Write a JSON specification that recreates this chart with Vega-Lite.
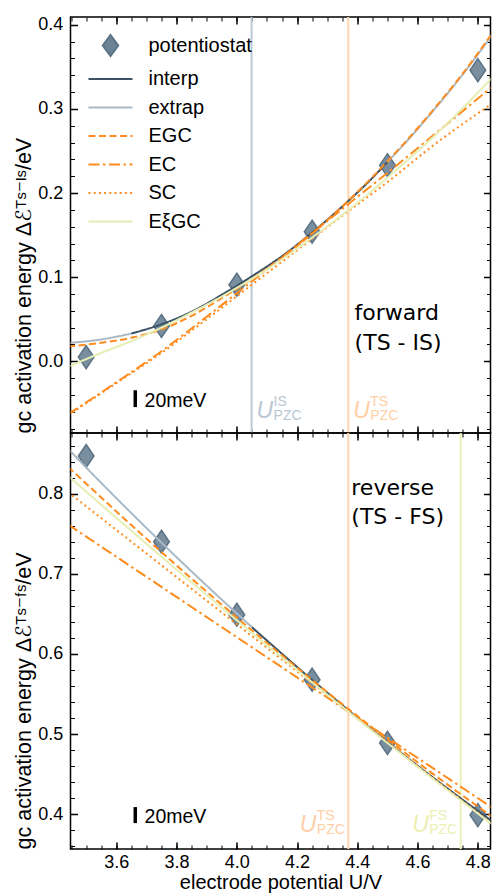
{
  "$schema": "https://vega.github.io/schema/vega-lite/v6.json",
  "background": "white",
  "padding": {"left": 12.5, "top": 14, "right": 1, "bottom": 0},
  "spacing": 0,
  "bounds": "flush",
  "config": {
    "font": "Liberation Sans",
    "view": {"stroke": "#000", "strokeWidth": 1.5},
    "axis": {"domain": false, "grid": false, "tickColor": "#000", "labelColor": "#000", "titleColor": "#000", "titleFontWeight": "normal", "labelFont": "Liberation Sans", "titleFont": "Liberation Sans, DejaVu Sans", "labelFontSize": 18, "titleFontSize": 20, "labelOverlap": false, "labelFlush": false}
  },
  "datasets": {
    "pts_top": [{"U":3.5,"E":0.005},{"U":3.75,"E":0.042},{"U":4.0,"E":0.091},{"U":4.25,"E":0.154},{"U":4.5,"E":0.233},{"U":4.8,"E":0.346}],
    "pts_bot": [{"U":3.5,"E":0.847},{"U":3.75,"E":0.740},{"U":4.0,"E":0.649},{"U":4.25,"E":0.568},{"U":4.5,"E":0.489},{"U":4.8,"E":0.399}],
    "lines_top": [
      {"series":"extrap","seg":"xL","U":3.44,"E":0.0217},{"series":"extrap","seg":"xL","U":3.55,"E":0.026},{"series":"extrap","seg":"xL","U":3.65,"E":0.033},
      {"series":"interp","seg":"i","U":3.65,"E":0.033},{"series":"interp","seg":"i","U":3.75,"E":0.044},{"series":"interp","seg":"i","U":3.85,"E":0.059},{"series":"interp","seg":"i","U":3.95,"E":0.079},{"series":"interp","seg":"i","U":4.05,"E":0.101},{"series":"interp","seg":"i","U":4.15,"E":0.125},{"series":"interp","seg":"i","U":4.25,"E":0.153},{"series":"interp","seg":"i","U":4.35,"E":0.184},{"series":"interp","seg":"i","U":4.45,"E":0.218},{"series":"interp","seg":"i","U":4.5,"E":0.237},
      {"series":"extrap","seg":"xR","U":4.5,"E":0.237},{"series":"extrap","seg":"xR","U":4.55,"E":0.256},{"series":"extrap","seg":"xR","U":4.65,"E":0.297},{"series":"extrap","seg":"xR","U":4.75,"E":0.341},{"series":"extrap","seg":"xR","U":4.85,"E":0.389},
      {"series":"EGC","seg":"g","U":3.44,"E":0.0177},{"series":"EGC","seg":"g","U":3.55,"E":0.022},{"series":"EGC","seg":"g","U":3.65,"E":0.028},{"series":"EGC","seg":"g","U":3.75,"E":0.038},{"series":"EGC","seg":"g","U":3.85,"E":0.054},{"series":"EGC","seg":"g","U":3.95,"E":0.075},{"series":"EGC","seg":"g","U":4.05,"E":0.098},{"series":"EGC","seg":"g","U":4.15,"E":0.123},{"series":"EGC","seg":"g","U":4.25,"E":0.152},{"series":"EGC","seg":"g","U":4.35,"E":0.184},{"series":"EGC","seg":"g","U":4.45,"E":0.219},{"series":"EGC","seg":"g","U":4.55,"E":0.257},{"series":"EGC","seg":"g","U":4.65,"E":0.298},{"series":"EGC","seg":"g","U":4.75,"E":0.342},{"series":"EGC","seg":"g","U":4.85,"E":0.391},
      {"series":"EC","seg":"c","U":3.44,"E":-0.063},{"series":"EC","seg":"c","U":3.6,"E":-0.025},{"series":"EC","seg":"c","U":3.75,"E":0.012},{"series":"EC","seg":"c","U":3.9,"E":0.053},{"series":"EC","seg":"c","U":4.05,"E":0.095},{"series":"EC","seg":"c","U":4.2,"E":0.138},{"series":"EC","seg":"c","U":4.35,"E":0.181},{"series":"EC","seg":"c","U":4.5,"E":0.224},{"series":"EC","seg":"c","U":4.65,"E":0.268},{"series":"EC","seg":"c","U":4.85,"E":0.327},
      {"series":"SC","seg":"s","U":3.44,"E":-0.064},{"series":"SC","seg":"s","U":3.6,"E":-0.026},{"series":"SC","seg":"s","U":3.75,"E":0.010},{"series":"SC","seg":"s","U":3.9,"E":0.050},{"series":"SC","seg":"s","U":4.05,"E":0.091},{"series":"SC","seg":"s","U":4.2,"E":0.132},{"series":"SC","seg":"s","U":4.35,"E":0.173},{"series":"SC","seg":"s","U":4.5,"E":0.213},{"series":"SC","seg":"s","U":4.65,"E":0.256},{"series":"SC","seg":"s","U":4.85,"E":0.307},
      {"series":"EξGC","seg":"x","U":3.44,"E":-0.0065},{"series":"EξGC","seg":"x","U":3.55,"E":0.010},{"series":"EξGC","seg":"x","U":3.65,"E":0.024},{"series":"EξGC","seg":"x","U":3.75,"E":0.040},{"series":"EξGC","seg":"x","U":3.85,"E":0.058},{"series":"EξGC","seg":"x","U":3.95,"E":0.077},{"series":"EξGC","seg":"x","U":4.05,"E":0.098},{"series":"EξGC","seg":"x","U":4.15,"E":0.121},{"series":"EξGC","seg":"x","U":4.25,"E":0.147},{"series":"EξGC","seg":"x","U":4.35,"E":0.174},{"series":"EξGC","seg":"x","U":4.45,"E":0.203},{"series":"EξGC","seg":"x","U":4.55,"E":0.234},{"series":"EξGC","seg":"x","U":4.65,"E":0.266},{"series":"EξGC","seg":"x","U":4.75,"E":0.301},{"series":"EξGC","seg":"x","U":4.85,"E":0.338}
    ],
    "lines_bot": [
      {"series":"extrap","seg":"xL","U":3.44,"E":0.8559},{"series":"extrap","seg":"xL","U":3.55,"E":0.8134},{"series":"extrap","seg":"xL","U":3.65,"E":0.7757},{"series":"extrap","seg":"xL","U":3.75,"E":0.7389},{"series":"extrap","seg":"xL","U":3.85,"E":0.7029},{"series":"extrap","seg":"xL","U":3.95,"E":0.6678},{"series":"extrap","seg":"xL","U":4.05,"E":0.6335},
      {"series":"interp","seg":"i","U":4.05,"E":0.6335},{"series":"interp","seg":"i","U":4.15,"E":0.6002},{"series":"interp","seg":"i","U":4.25,"E":0.5676},{"series":"interp","seg":"i","U":4.35,"E":0.5360},{"series":"interp","seg":"i","U":4.45,"E":0.5052},{"series":"interp","seg":"i","U":4.55,"E":0.4752},{"series":"interp","seg":"i","U":4.65,"E":0.4462},{"series":"interp","seg":"i","U":4.75,"E":0.4180},{"series":"interp","seg":"i","U":4.85,"E":0.3906},
      {"series":"EGC","seg":"g","U":3.44,"E":0.8335},{"series":"EGC","seg":"g","U":3.65,"E":0.7608},{"series":"EGC","seg":"g","U":3.85,"E":0.694},{"series":"EGC","seg":"g","U":4.05,"E":0.6296},{"series":"EGC","seg":"g","U":4.25,"E":0.5676},{"series":"EGC","seg":"g","U":4.45,"E":0.508},{"series":"EGC","seg":"g","U":4.65,"E":0.4508},{"series":"EGC","seg":"g","U":4.85,"E":0.3962},
      {"series":"EC","seg":"c","U":3.44,"E":0.7615},{"series":"EC","seg":"c","U":4.15,"E":0.5833},{"series":"EC","seg":"c","U":4.85,"E":0.4076},
      {"series":"SC","seg":"s","U":3.44,"E":0.8019},{"series":"SC","seg":"s","U":4.15,"E":0.593},{"series":"SC","seg":"s","U":4.85,"E":0.3872},
      {"series":"EξGC","seg":"x","U":3.44,"E":0.8223},{"series":"EξGC","seg":"x","U":3.65,"E":0.7536},{"series":"EξGC","seg":"x","U":3.85,"E":0.6894},{"series":"EξGC","seg":"x","U":4.05,"E":0.6264},{"series":"EξGC","seg":"x","U":4.25,"E":0.5646},{"series":"EξGC","seg":"x","U":4.45,"E":0.504},{"series":"EξGC","seg":"x","U":4.65,"E":0.4446},{"series":"EξGC","seg":"x","U":4.85,"E":0.3866}
    ],
    "pzc_top": [{"U":4.049,"E":-0.0675,"state":"IS"},{"U":4.37,"E":-0.0675,"state":"TS"}],
    "pzc_bot": [{"U":4.37,"E":0.378,"state":"TS"},{"U":4.743,"E":0.378,"state":"FS"}],
    "bar_top": [{"U":3.663,"E":-0.0544,"E2":-0.0344}],
    "bar_bot": [{"U":3.663,"E":0.389,"E2":0.409}],
    "note_top": [{"U":4.391,"E":0.049}],
    "note_bot": [{"U":4.38,"E":0.798}]
  },
  "vconcat": [
    {
      "width": 420, "height": 416,
      "resolve": {"axis": {"x": "independent", "y": "independent"}},
      "layer": [
        {
          "data": {"name": "pzc_top"},
          "mark": {"type": "rule", "strokeWidth": 2},
          "encoding": {
            "x": {"field": "U", "type": "quantitative", "scale": {"domain": [3.448, 4.842], "nice": false, "zero": false}, "axis": {"orient": "bottom", "values": [3.6,3.8,4.0,4.2,4.4,4.6,4.8], "tickSize": -7, "tickWidth": 1.5, "labels": false, "title": null}},
            "stroke": {"field": "state", "type": "nominal", "scale": {"domain": ["IS","TS","FS"], "range": ["#bccad6","#ffd3ae","#eef2b7"]}, "legend": null}
          }
        },
        {
          "data": {"name": "pts_top"},
          "mark": {"type": "point", "shape": "M0,-1L0.68,0L0,1L-0.68,0Z", "size": 529, "filled": true, "fill": "#6b8396", "stroke": "#4a6478", "strokeWidth": 1.5, "opacity": 0.9},
          "encoding": {
            "x": {"field": "U", "type": "quantitative", "scale": {"domain": [3.448, 4.842], "nice": false, "zero": false}, "axis": {"orient": "bottom", "values": [3.45,3.5,3.55,3.6,3.65,3.7,3.75,3.8,3.85,3.9,3.95,4.0,4.05,4.1,4.15,4.2,4.25,4.3,4.35,4.4,4.45,4.5,4.55,4.6,4.65,4.7,4.75,4.8], "tickSize": -4, "tickWidth": 1, "labels": false, "title": null}},
            "y": {"field": "E", "type": "quantitative", "scale": {"domain": [-0.0852, 0.4092], "nice": false, "zero": false}, "axis": {"orient": "left", "values": [0,0.1,0.2,0.3,0.4], "format": ".1f", "tickSize": -7, "tickWidth": 1.5, "labelPadding": 14.7, "title": "\u2002\u200agc activation energy Δℰᵀˢ⁻ᴵˢ/eV", "titleFontSize": 21.5, "titlePadding": 2, "titleAnchor": "start", "titleAlign": "left", "titleAngle": 270}}
          }
        },
        {
          "data": {"name": "lines_top"},
          "mark": {"type": "line", "clip": true, "strokeWidth": 2, "interpolate": "monotone"},
          "encoding": {
            "x": {"field": "U", "type": "quantitative", "scale": {"domain": [3.448, 4.842], "nice": false, "zero": false}, "axis": {"orient": "top", "values": [3.6,3.8,4.0,4.2,4.4,4.6,4.8], "tickSize": -7, "tickWidth": 1.5, "labels": false, "title": null}},
            "y": {"field": "E", "type": "quantitative", "scale": {"domain": [-0.0852, 0.4092], "nice": false, "zero": false}, "axis": {"orient": "left", "values": [-0.08,-0.06,-0.04,-0.02,0,0.02,0.04,0.06,0.08,0.1,0.12,0.14,0.16,0.18,0.2,0.22,0.24,0.26,0.28,0.3,0.32,0.34,0.36,0.38,0.4], "tickSize": -4, "tickWidth": 1, "labels": false, "title": null}},
            "color": {"field": "series", "type": "nominal", "scale": {"domain": ["potentiostat","interp","extrap","EGC","EC","SC","EξGC"], "range": ["#5b7487","#3b5266","#a9b9c6","#ff8c1e","#ff8c1e","#ff8c1e","#e6eeb4"]},
              "legend": {"orient": "none", "legendX": 30, "legendY": 18.5, "direction": "vertical", "title": null, "padding": 0, "symbolSize": 100, "symbolStrokeWidth": 2, "symbolOffset": 0, "labelFontSize": 20, "labelFont": "Liberation Sans", "labelColor": "#000", "labelOffset": 28, "rowPadding": 8.5,
                "encode": {"symbols": {"update": {
                  "shape": {"signal": "datum.value === 'potentiostat' ? 'M0,-2.1L1.55,0L0,2.1L-1.55,0Z' : 'M-4.4,0L4.4,0'"},
                  "size": {"value": 100},
                  "fill": {"signal": "datum.value === 'potentiostat' ? '#6b8396' : 'transparent'"},
                  "stroke": {"signal": "datum.value === 'potentiostat' ? '#4a6478' : datum.value === 'interp' ? '#3b5266' : datum.value === 'extrap' ? '#a9b9c6' : datum.value === 'EξGC' ? '#e6eeb4' : '#ff8c1e'"},
                  "strokeWidth": {"value": 2},
                  "strokeDash": {"signal": "datum.value === 'EGC' ? [7,3.5] : datum.value === 'EC' ? [11,3.5,2.5,3.5] : datum.value === 'SC' ? [2,3.2] : [1,0]"},
                  "opacity": {"value": 1}
                }}}
              }},
            "strokeDash": {"field": "series", "type": "nominal", "scale": {"domain": ["interp","extrap","EGC","EC","SC","EξGC"], "range": [[1,0],[1,0],[7,3.5],[11,3.5,2.5,3.5],[2,3.2],[1,0]]}, "legend": null},
            "detail": {"field": "seg"}
          }
        },
        {
          "data": {"name": "bar_top"},
          "mark": {"type": "rule", "strokeWidth": 3.5, "color": "#000"},
          "encoding": {
            "x": {"field": "U", "type": "quantitative", "scale": {"domain": [3.448, 4.842], "nice": false, "zero": false}, "axis": {"orient": "top", "values": [3.45,3.5,3.55,3.6,3.65,3.7,3.75,3.8,3.85,3.9,3.95,4.0,4.05,4.1,4.15,4.2,4.25,4.3,4.35,4.4,4.45,4.5,4.55,4.6,4.65,4.7,4.75,4.8], "tickSize": -4, "tickWidth": 1, "labels": false, "title": null}},
            "y": {"field": "E", "type": "quantitative", "scale": {"domain": [-0.0852, 0.4092], "nice": false, "zero": false}, "axis": {"orient": "right", "values": [0,0.1,0.2,0.3,0.4], "tickSize": -7, "tickWidth": 1.5, "labels": false, "title": null}},
            "y2": {"field": "E2"}
          }
        },
        {
          "data": {"name": "bar_top"},
          "mark": {"type": "text", "text": "20meV", "align": "left", "baseline": "alphabetic", "dx": 9.3, "fontSize": 19.5, "font": "Liberation Sans", "color": "#000"},
          "encoding": {
            "x": {"field": "U", "type": "quantitative", "scale": {"domain": [3.448, 4.842], "nice": false, "zero": false}, "axis": null},
            "y": {"field": "E", "type": "quantitative", "scale": {"domain": [-0.0852, 0.4092], "nice": false, "zero": false}, "axis": {"orient": "right", "values": [-0.08,-0.06,-0.04,-0.02,0,0.02,0.04,0.06,0.08,0.1,0.12,0.14,0.16,0.18,0.2,0.22,0.24,0.26,0.28,0.3,0.32,0.34,0.36,0.38,0.4], "tickSize": -4, "tickWidth": 1, "labels": false, "title": null}}
          }
        },
        {
          "data": {"name": "pzc_top"},
          "mark": {"type": "text", "text": "U", "align": "left", "baseline": "alphabetic", "dx": 5, "fontSize": 23, "fontStyle": "italic", "font": "Liberation Sans"},
          "encoding": {
            "x": {"field": "U", "type": "quantitative", "axis": null},
            "y": {"field": "E", "type": "quantitative", "axis": null},
            "fill": {"field": "state", "type": "nominal", "scale": {"domain": ["IS","TS","FS"], "range": ["#b8c7d3","#ffcfa6","#ecf0b0"]}, "legend": null}
          }
        },
        {
          "data": {"name": "pzc_top"},
          "mark": {"type": "text", "align": "left", "baseline": "alphabetic", "dx": 22, "dy": -12, "fontSize": 14, "font": "Liberation Sans"},
          "encoding": {
            "x": {"field": "U", "type": "quantitative", "axis": null},
            "y": {"field": "E", "type": "quantitative", "axis": null},
            "text": {"field": "state"},
            "fill": {"field": "state", "type": "nominal", "legend": null}
          }
        },
        {
          "data": {"name": "pzc_top"},
          "mark": {"type": "text", "text": "PZC", "align": "left", "baseline": "alphabetic", "dx": 22, "dy": 2, "fontSize": 14, "font": "Liberation Sans"},
          "encoding": {
            "x": {"field": "U", "type": "quantitative", "axis": null},
            "y": {"field": "E", "type": "quantitative", "axis": null},
            "fill": {"field": "state", "type": "nominal", "legend": null}
          }
        },
        {
          "data": {"name": "note_top"},
          "mark": {"type": "text", "text": ["forward", "(TS - IS)"], "align": "left", "baseline": "alphabetic", "lineHeight": 30, "fontSize": 22, "font": "DejaVu Sans", "color": "#000"},
          "encoding": {
            "x": {"field": "U", "type": "quantitative", "axis": null},
            "y": {"field": "E", "type": "quantitative", "axis": null}
          }
        }
      ]
    },
    {
      "width": 420, "height": 416,
      "resolve": {"axis": {"x": "independent", "y": "independent"}},
      "layer": [
        {
          "data": {"name": "pzc_bot"},
          "mark": {"type": "rule", "strokeWidth": 2},
          "encoding": {
            "x": {"field": "U", "type": "quantitative", "scale": {"domain": [3.448, 4.842], "nice": false, "zero": false}, "axis": {"orient": "bottom", "values": [3.6,3.8,4.0,4.2,4.4,4.6,4.8], "format": ".1f", "tickSize": -7, "tickWidth": 1.5, "labelPadding": 11, "title": "electrode potential U/V", "titleFontSize": 20, "titlePadding": 1}},
            "stroke": {"field": "state", "type": "nominal", "scale": {"domain": ["IS","TS","FS"], "range": ["#bccad6","#ffd3ae","#eef2b7"]}, "legend": null}
          }
        },
        {
          "data": {"name": "pts_bot"},
          "mark": {"type": "point", "shape": "M0,-1L0.68,0L0,1L-0.68,0Z", "size": 529, "filled": true, "fill": "#6b8396", "stroke": "#4a6478", "strokeWidth": 1.5, "opacity": 0.9},
          "encoding": {
            "x": {"field": "U", "type": "quantitative", "scale": {"domain": [3.448, 4.842], "nice": false, "zero": false}, "axis": {"orient": "bottom", "values": [3.45,3.5,3.55,3.6,3.65,3.7,3.75,3.8,3.85,3.9,3.95,4.0,4.05,4.1,4.15,4.2,4.25,4.3,4.35,4.4,4.45,4.5,4.55,4.6,4.65,4.7,4.75,4.8], "tickSize": -4, "tickWidth": 1, "labels": false, "title": null}},
            "y": {"field": "E", "type": "quantitative", "scale": {"domain": [0.3567, 0.8757], "nice": false, "zero": false}, "axis": {"orient": "left", "values": [0.4,0.5,0.6,0.7,0.8], "format": ".1f", "tickSize": -7, "tickWidth": 1.5, "labelPadding": 14.7, "title": "\u2002\u200agc activation energy Δℰᵀˢ⁻ᶠˢ/eV", "titleFontSize": 21.5, "titlePadding": 2, "titleAnchor": "start", "titleAlign": "left", "titleAngle": 270}}
          }
        },
        {
          "data": {"name": "lines_bot"},
          "mark": {"type": "line", "clip": true, "strokeWidth": 2, "interpolate": "monotone"},
          "encoding": {
            "x": {"field": "U", "type": "quantitative", "scale": {"domain": [3.448, 4.842], "nice": false, "zero": false}, "axis": {"orient": "top", "values": [3.6,3.8,4.0,4.2,4.4,4.6,4.8], "tickSize": -7, "tickWidth": 1.5, "labels": false, "title": null}},
            "y": {"field": "E", "type": "quantitative", "scale": {"domain": [0.3567, 0.8757], "nice": false, "zero": false}, "axis": {"orient": "left", "values": [0.36,0.38,0.4,0.42,0.44,0.46,0.48,0.5,0.52,0.54,0.56,0.58,0.6,0.62,0.64,0.66,0.68,0.7,0.72,0.74,0.76,0.78,0.8,0.82,0.84,0.86], "tickSize": -4, "tickWidth": 1, "labels": false, "title": null}},
            "color": {"field": "series", "type": "nominal", "scale": {"domain": ["potentiostat","interp","extrap","EGC","EC","SC","EξGC"], "range": ["#5b7487","#3b5266","#a9b9c6","#ff8c1e","#ff8c1e","#ff8c1e","#e6eeb4"]}, "legend": null},
            "strokeDash": {"field": "series", "type": "nominal", "scale": {"domain": ["interp","extrap","EGC","EC","SC","EξGC"], "range": [[1,0],[1,0],[7,3.5],[11,3.5,2.5,3.5],[2,3.2],[1,0]]}, "legend": null},
            "detail": {"field": "seg"}
          }
        },
        {
          "data": {"name": "bar_bot"},
          "mark": {"type": "rule", "strokeWidth": 3.5, "color": "#000"},
          "encoding": {
            "x": {"field": "U", "type": "quantitative", "scale": {"domain": [3.448, 4.842], "nice": false, "zero": false}, "axis": {"orient": "top", "values": [3.45,3.5,3.55,3.6,3.65,3.7,3.75,3.8,3.85,3.9,3.95,4.0,4.05,4.1,4.15,4.2,4.25,4.3,4.35,4.4,4.45,4.5,4.55,4.6,4.65,4.7,4.75,4.8], "tickSize": -4, "tickWidth": 1, "labels": false, "title": null}},
            "y": {"field": "E", "type": "quantitative", "scale": {"domain": [0.3567, 0.8757], "nice": false, "zero": false}, "axis": {"orient": "right", "values": [0.4,0.5,0.6,0.7,0.8], "tickSize": -7, "tickWidth": 1.5, "labels": false, "title": null}},
            "y2": {"field": "E2"}
          }
        },
        {
          "data": {"name": "bar_bot"},
          "mark": {"type": "text", "text": "20meV", "align": "left", "baseline": "alphabetic", "dx": 9.3, "fontSize": 19.5, "font": "Liberation Sans", "color": "#000"},
          "encoding": {
            "x": {"field": "U", "type": "quantitative", "scale": {"domain": [3.448, 4.842], "nice": false, "zero": false}, "axis": null},
            "y": {"field": "E", "type": "quantitative", "scale": {"domain": [0.3567, 0.8757], "nice": false, "zero": false}, "axis": {"orient": "right", "values": [0.36,0.38,0.4,0.42,0.44,0.46,0.48,0.5,0.52,0.54,0.56,0.58,0.6,0.62,0.64,0.66,0.68,0.7,0.72,0.74,0.76,0.78,0.8,0.82,0.84,0.86], "tickSize": -4, "tickWidth": 1, "labels": false, "title": null}}
          }
        },
        {
          "data": {"name": "pzc_bot"},
          "mark": {"type": "text", "text": "U", "align": "left", "baseline": "alphabetic", "dx": -48.5, "fontSize": 23, "fontStyle": "italic", "font": "Liberation Sans"},
          "encoding": {
            "x": {"field": "U", "type": "quantitative", "axis": null},
            "y": {"field": "E", "type": "quantitative", "axis": null},
            "fill": {"field": "state", "type": "nominal", "scale": {"domain": ["IS","TS","FS"], "range": ["#b8c7d3","#ffcfa6","#ecf0b0"]}, "legend": null}
          }
        },
        {
          "data": {"name": "pzc_bot"},
          "mark": {"type": "text", "align": "left", "baseline": "alphabetic", "dx": -31.5, "dy": -12, "fontSize": 14, "font": "Liberation Sans"},
          "encoding": {
            "x": {"field": "U", "type": "quantitative", "axis": null},
            "y": {"field": "E", "type": "quantitative", "axis": null},
            "text": {"field": "state"},
            "fill": {"field": "state", "type": "nominal", "legend": null}
          }
        },
        {
          "data": {"name": "pzc_bot"},
          "mark": {"type": "text", "text": "PZC", "align": "left", "baseline": "alphabetic", "dx": -31.5, "dy": 2, "fontSize": 14, "font": "Liberation Sans"},
          "encoding": {
            "x": {"field": "U", "type": "quantitative", "axis": null},
            "y": {"field": "E", "type": "quantitative", "axis": null},
            "fill": {"field": "state", "type": "nominal", "legend": null}
          }
        },
        {
          "data": {"name": "note_bot"},
          "mark": {"type": "text", "text": ["reverse", "(TS - FS)"], "align": "left", "baseline": "alphabetic", "lineHeight": 29, "fontSize": 22, "font": "DejaVu Sans", "color": "#000"},
          "encoding": {
            "x": {"field": "U", "type": "quantitative", "axis": null},
            "y": {"field": "E", "type": "quantitative", "axis": null}
          }
        }
      ]
    }
  ]
}
